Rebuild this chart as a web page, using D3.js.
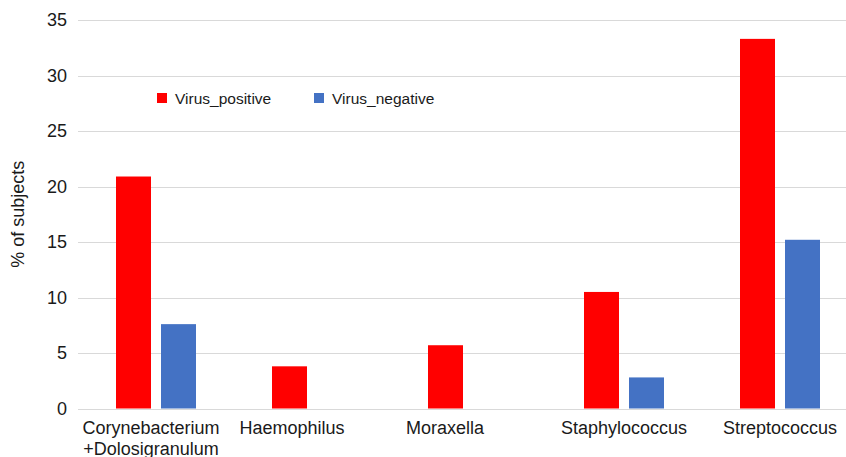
<!DOCTYPE html>
<html>
<head>
<meta charset="utf-8">
<script src="https://cdn.jsdelivr.net/npm/d3@7"></script>
<style>
  html, body { margin: 0; padding: 0; background: #fff; }
  svg { display: block; font-family: "Liberation Sans", Arial, Helvetica, sans-serif; }
</style>
</head>
<body>
<div id="chart"></div>
<script>
// --- data ---
const categories = [
  ["Corynebacterium", "+Dolosigranulum"],
  ["Haemophilus"],
  ["Moraxella"],
  ["Staphylococcus"],
  ["Streptococcus"]
];
const seriesNames = ["Virus_positive", "Virus_negative"];
const virusPositive = [20.9, 3.8, 5.7, 10.5, 33.3];
const virusNegative = [7.6, 0, 0, 2.8, 15.2];
const yTicks = [0, 5, 10, 15, 20, 25, 30, 35];
const colors = ["#FF0000", "#4472C4"];

// the original labels sit a bit left of their groups
const labelShift = [-5, -20, -23, 0, 0];

const W = 846, H = 457;
const svg = d3.select("#chart").append("svg")
  .attr("width", W)
  .attr("height", H);

// plot runs slightly past the right edge, like the original
const x = d3.scaleBand()
  .domain(d3.range(categories.length))
  .range([78, 858]);

const xInner = d3.scaleBand()
  .domain(seriesNames)
  .range([x.bandwidth() / 2 - 40, x.bandwidth() / 2 + 40])
  .paddingInner(2 / 9);

const y = d3.scaleLinear()
  .domain([0, 35])
  .range([408.5, 20]);

// gridlines
svg.append("g")
  .selectAll("line")
  .data(yTicks)
  .join("line")
  .attr("x1", 78)
  .attr("x2", W)
  .attr("y1", d => Math.round(y(d)) + 0.5)
  .attr("y2", d => Math.round(y(d)) + 0.5)
  .attr("stroke", "#d9d9d9")
  .attr("stroke-width", 1.2);

// y axis tick labels
const yAxis = svg.append("g")
  .attr("transform", "translate(67,0)")
  .call(d3.axisLeft(y).tickValues(yTicks).tickSize(0).tickPadding(0));
yAxis.select(".domain").remove();
yAxis.selectAll("text")
  .attr("font-family", "'Liberation Sans', Arial, sans-serif")
  .style("font-size", "18px")
  .style("fill", "#1a1a1a");

// y axis title
svg.append("text")
  .attr("transform", `translate(18,${(y(0) + y(35)) / 2}) rotate(-90)`)
  .attr("text-anchor", "middle")
  .attr("dominant-baseline", "central")
  .style("font-size", "18px")
  .style("fill", "#1a1a1a")
  .text("% of subjects");

// bars
const groups = svg.append("g")
  .selectAll("g")
  .data(categories.map((c, i) => i))
  .join("g")
  .attr("transform", i => `translate(${x(i)},0)`);

groups.selectAll("rect")
  .data(i => [
    { s: seriesNames[0], v: virusPositive[i] },
    { s: seriesNames[1], v: virusNegative[i] }
  ].filter(d => d.v > 0))
  .join("rect")
  .attr("x", d => xInner(d.s))
  .attr("width", xInner.bandwidth())
  .attr("y", d => y(d.v))
  .attr("height", d => y(0) - y(d.v))
  .attr("fill", d => colors[seriesNames.indexOf(d.s)]);

// category labels
const labels = svg.append("g")
  .selectAll("text")
  .data(categories)
  .join("text")
  .attr("x", (d, i) => x(i) + x.bandwidth() / 2 + labelShift[i])
  .attr("y", 434)
  .attr("text-anchor", "middle")
  .style("font-size", "18px")
  .style("fill", "#1a1a1a");

labels.selectAll("tspan")
  .data(d => d)
  .join("tspan")
  .attr("x", function () { return d3.select(this.parentNode).attr("x"); })
  .attr("dy", (d, i) => i === 0 ? 0 : 21)
  .text(d => d);

// legend
const legendX = [157, 314];
const legend = svg.append("g")
  .selectAll("g")
  .data(seriesNames)
  .join("g")
  .attr("transform", (d, i) => `translate(${legendX[i]},93)`);

legend.append("rect")
  .attr("width", 10)
  .attr("height", 10)
  .attr("fill", (d, i) => colors[i]);

legend.append("text")
  .attr("x", 18)
  .attr("y", 11)
  .style("font-size", "15.5px")
  .style("fill", "#1a1a1a")
  .text(d => d);
</script>
</body>
</html>
